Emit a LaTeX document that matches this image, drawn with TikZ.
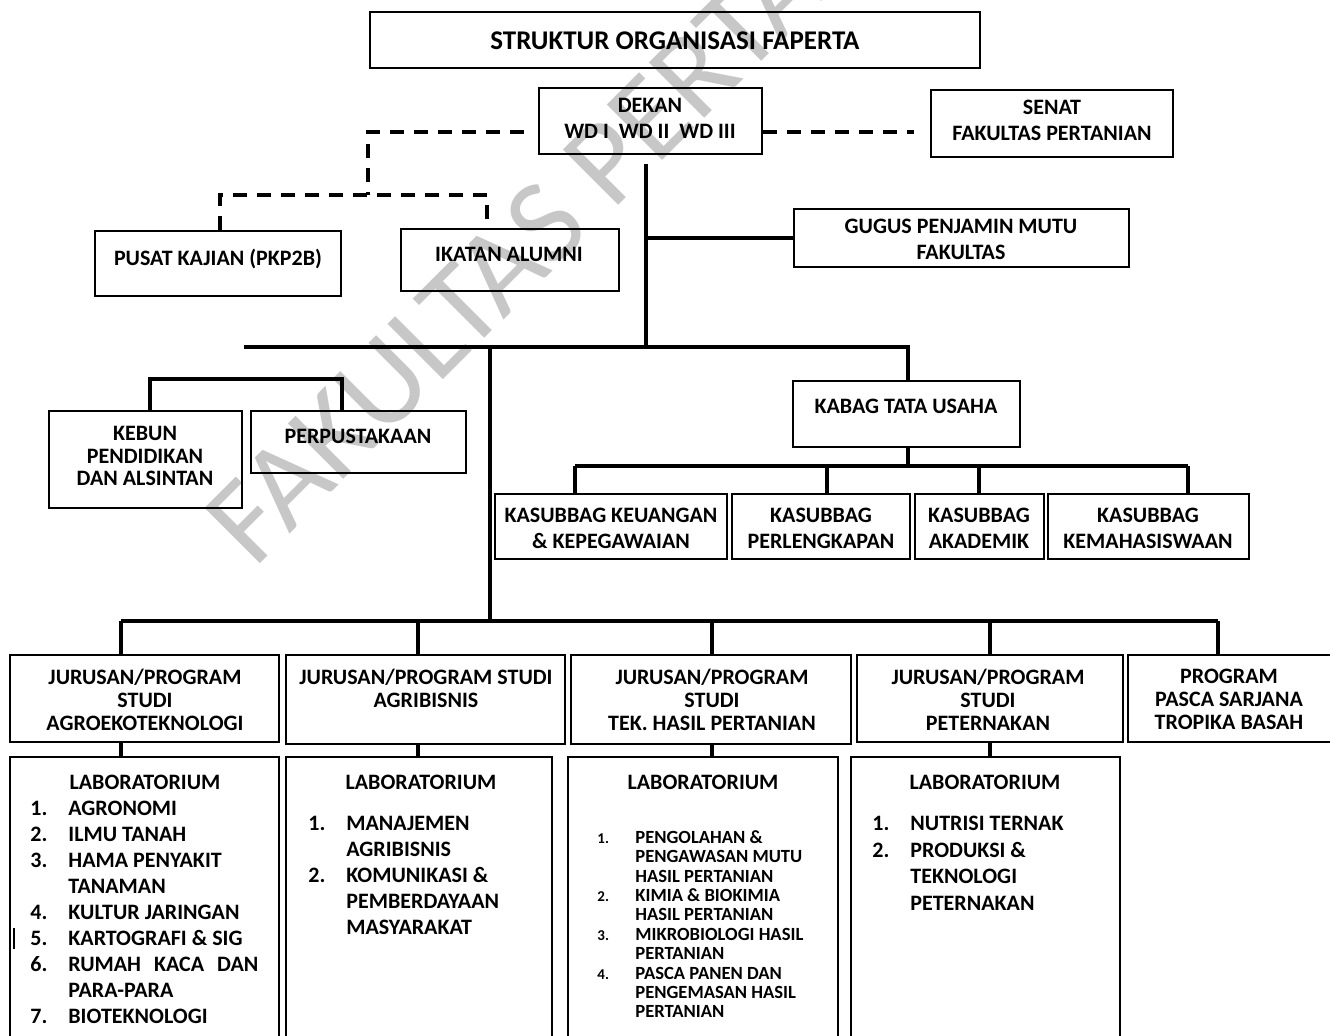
\documentclass[tikz,border=0pt]{standalone}
\usepackage{fontspec}
\setmainfont{Carlito}
\usetikzlibrary{fit}

\begin{document}
\begin{tikzpicture}[x=0.5pt, y=-0.5pt]

\def\nocol{19pt}
\newcommand{\labno}[1]{\makebox[\nocol][l]{#1}}

\tikzset{
  box/.style={draw, line width=1pt, inner sep=0pt},
  lbl/.style={font=\fontsize{11}{13}\selectfont\bfseries, align=center, inner sep=0pt, anchor=north},
  lbln/.style={lbl, font=\fontsize{11}{11.3}\selectfont\bfseries},
  labtxt/.style={font=\fontsize{11}{13}\selectfont\bfseries, align=left, inner sep=0pt, anchor=north west},
  conn/.style={line width=1.8pt},
  dashconn/.style={line width=2pt, dash pattern=on 7pt off 5pt},
  watermark/.style={font=\fontsize{61}{61}\selectfont, text=black!22, inner sep=0pt}
}

\useasboundingbox (0,0) rectangle (1330,1036);
\clip (0,0) rectangle (1330,1036);

% ---------- watermark ----------
\node[watermark, rotate=45] (wm) at (606,162) {FAKULTAS PERTANIAN};

% ---------- boxes ----------
\node[box, fit={(370,12) (980,68)}]    (title)  {};
\node[box, fit={(539,88) (762,154)}]   (dekan)  {};
\node[box, fit={(931,90) (1173,157)}]  (senat)  {};
\node[box, fit={(794,209) (1129,267)}] (gugus)  {};
\node[box, fit={(95,231) (341,296)}]   (pusat)  {};
\node[box, fit={(401,229) (619,291)}]  (ikatan) {};
\node[box, fit={(49,411) (242,508)}]   (kebun)  {};
\node[box, fit={(251,411) (466,473)}]  (perpus) {};
\node[box, fit={(793,381) (1020,447)}] (kabag)  {};

\node[box, fit={(495,494) (727,559)}]   (ks1) {};
\node[box, fit={(732,494) (910,559)}]   (ks2) {};
\node[box, fit={(915,494) (1044,559)}]  (ks3) {};
\node[box, fit={(1048,494) (1249,559)}] (ks4) {};

\node[box, fit={(10,655) (279,742)}]    (jur1) {};
\node[box, fit={(286,655) (565,744)}]   (jur2) {};
\node[box, fit={(571,655) (851,744)}]   (jur3) {};
\node[box, fit={(857,655) (1123,742)}]  (jur4) {};
\node[box, fit={(1128,655) (1340,742)}] (jur5) {};

\node[box, fit={(10,757) (279,1050)}]   (lab1) {};
\node[box, fit={(286,757) (552,1050)}]  (lab2) {};
\node[box, fit={(568,757) (838,1050)}]  (lab3) {};
\node[box, fit={(851,757) (1120,1050)}] (lab4) {};

% ---------- texts ----------
\node[lbl, anchor=center, font=\fontsize{13.5}{15}\selectfont\bfseries] (title-t) at (675,41) {STRUKTUR ORGANISASI FAPERTA};
\node[lbl] (dekan-t)  at (650,98)  {DEKAN\\WD I\ \ WD II\ \ WD III};
\node[lbl] (senat-t)  at (1052,100) {SENAT\\FAKULTAS PERTANIAN};
\node[lbl] (gugus-t)  at (961,219) {GUGUS PENJAMIN MUTU\\FAKULTAS};
\node[lbl] (pusat-t)  at (218,249) {PUSAT KAJIAN (PKP2B)};
\node[lbl] (ikatan-t) at (509,247) {IKATAN ALUMNI};
\node[lbln] (kebun-t) at (145,426) {KEBUN\\PENDIDIKAN\\DAN ALSINTAN};
\node[lbl] (perpus-t) at (358,429) {PERPUSTAKAAN};
\node[lbl] (kabag-t)  at (906,399) {KABAG TATA USAHA};

\node[lbl] (ks1-t) at (611,508)  {KASUBBAG KEUANGAN\\\& KEPEGAWAIAN};
\node[lbl] (ks2-t) at (821,508)  {KASUBBAG\\PERLENGKAPAN};
\node[lbl] (ks3-t) at (979,508)  {KASUBBAG\\AKADEMIK};
\node[lbl] (ks4-t) at (1148,508) {KASUBBAG\\KEMAHASISWAAN};

\node[lbln] (jur1-t) at (145,669)  {JURUSAN/PROGRAM\\STUDI\\AGROEKOTEKNOLOGI};
\node[lbln] (jur2-t) at (426,669)  {JURUSAN/PROGRAM STUDI\\AGRIBISNIS};
\node[lbln] (jur3-t) at (712,669)  {JURUSAN/PROGRAM\\STUDI\\TEK. HASIL PERTANIAN};
\node[lbln] (jur4-t) at (988,669)  {JURUSAN/PROGRAM\\STUDI\\PETERNAKAN};
\node[lbln] (jur5-t) at (1229,669) {PROGRAM\\PASCA SARJANA\\TROPIKA BASAH};

\foreach \x [count=\i] in {145,421,703,985} {
  \node[lbl] (lab\i-h) at (\x,775) {LABORATORIUM};
}

\node[labtxt] (lab1-t) at (30,801) {%
  \labno{1.}AGRONOMI\\
  \labno{2.}ILMU TANAH\\
  \labno{3.}HAMA PENYAKIT\\
  \labno{}TANAMAN\\
  \labno{4.}KULTUR JARINGAN\\
  \labno{5.}KARTOGRAFI \& SIG\\
  \labno{6.}\makebox[95pt][s]{RUMAH KACA DAN}\\
  \labno{}PARA-PARA\\
  \labno{7.}BIOTEKNOLOGI};

\node[labtxt] (lab2-t) at (308,816) {%
  \labno{1.}MANAJEMEN\\
  \labno{}AGRIBISNIS\\
  \labno{2.}KOMUNIKASI \&\\
  \labno{}PEMBERDAYAAN\\
  \labno{}MASYARAKAT};

\node[labtxt, font=\fontsize{9.3}{9.7}\selectfont\bfseries] (lab3-t) at (597,830) {%
  \labno{\fontsize{7.5}{9}\selectfont 1.}PENGOLAHAN \&\\
  \labno{}PENGAWASAN MUTU\\
  \labno{}HASIL PERTANIAN\\
  \labno{\fontsize{7.5}{9}\selectfont 2.}KIMIA \& BIOKIMIA\\
  \labno{}HASIL PERTANIAN\\
  \labno{\fontsize{7.5}{9}\selectfont 3.}MIKROBIOLOGI HASIL\\
  \labno{}PERTANIAN\\
  \labno{\fontsize{7.5}{9}\selectfont 4.}PASCA PANEN DAN\\
  \labno{}PENGEMASAN HASIL\\
  \labno{}PERTANIAN};

\node[labtxt, font=\fontsize{11}{13.25}\selectfont\bfseries] (lab4-t) at (872,816) {%
  \labno{1.}NUTRISI TERNAK\\
  \labno{2.}PRODUKSI \&\\
  \labno{}TEKNOLOGI\\
  \labno{}PETERNAKAN};

% stray mark beside item 5
\draw[line width=0.8pt] (14,928) -- (14,949);

% ---------- dashed links ----------
\coordinate (dL) at (368,132);
\coordinate (dJ) at (368,195);
\coordinate (dA) at (220,195);
\coordinate (dB) at (487,195);

\draw[dashconn, shorten <=7pt] (dekan.west |- dL) -- (dL) -- (dJ);
\draw[dashconn] (dA |- pusat.north) -- (dA) -- (dB) -- (dB |- ikatan.north);
\draw[dashconn, shorten >=8pt] (dekan.east |- dL) -- (senat.west |- dL);

% ---------- solid links ----------
\coordinate (hub)  at (646,347);
\coordinate (busL) at (244,347);
\coordinate (busR) at (908,347);
\coordinate (trunk) at (490,347);

\draw[conn] ([yshift=-4.5pt]hub |- dekan.south) -- (hub);
\draw[conn] (hub |- gugus.west) -- (gugus.west);
\draw[conn] (busL) -- (busR) -- (busR |- kabag.north);

% kebun / perpustakaan bracket
\coordinate (lbL) at (150,379);
\coordinate (lbR) at (342,379);
\draw[conn] (lbL |- kebun.north) -- (lbL) -- (lbR) -- (lbR |- perpus.north);

% kabag -> kasubbag
\foreach \x [count=\i] in {575,827,979,1188} {
  \coordinate (kb-\i) at (\x,466);
  \draw[conn] (kb-\i) -- (kb-\i |- ks\i.north);
}
\draw[conn] (kb-1) -- (kb-4);
\draw[conn] (busR |- kabag.south) -- (busR |- kb-1);

% trunk -> jurusan
\foreach \x [count=\i] in {121,418,712,990,1218} {
  \coordinate (jb-\i) at (\x,621);
  \draw[conn] (jb-\i) -- (jb-\i |- jur\i.north);
}
\draw[conn] (jb-1) -- (jb-5);
\draw[conn] (trunk) -- (trunk |- jb-1);

% jurusan -> laboratorium
\foreach \x [count=\i] in {121,418,712,990} {
  \coordinate (lt-\i) at (\x,700);
  \draw[conn] (lt-\i |- jur\i.south) -- (lt-\i |- lab\i.north);
}

\end{tikzpicture}
\end{document}
